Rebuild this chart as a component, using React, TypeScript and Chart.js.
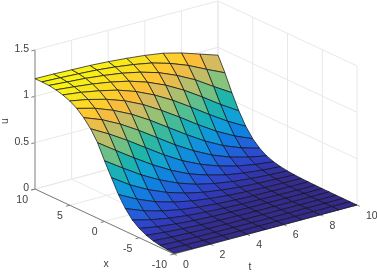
import React, { useEffect, useRef } from "react";
import { Chart, registerables } from "chart.js";
Chart.register(...registerables);

const W = 377;
const H = 272;
const xValues = [-10, -9, -8, -7, -6, -5, -4, -3, -2, -1, 0, 1, 2, 3, 4, 5, 6, 7, 8, 9, 10];
const tValues = [0, 1, 2, 3, 4, 5, 6, 7, 8, 9, 10];
const xTicks = [10, 5, 0, -5, -10];
const tTicks = [0, 2, 4, 6, 8, 10];
const uTicks = [0, 0.5, 1, 1.5];
const uTicksText = ["0", "0.5", "1", "1.5"];
// one row per t, values for x = -10 ... 10
const uT0 = [.008, .013, .022, .037, .062, .10, .157, .245, .361, .508, .655, .815, .93, 1.015, 1.08, 1.125, 1.155, 1.175, 1.187, 1.19, 1.19];
const uT1 = [.005, .009, .014, .024, .04, .066, .106, .168, .259, .378, .524, .678, .821, .94, 1.028, 1.088, 1.13, 1.155, 1.172, 1.182, 1.187];
const uT2 = [.003, .006, .009, .016, .026, .043, .07, .113, .178, .273, .397, .545, .70, .84, .953, 1.037, 1.094, 1.132, 1.158, 1.172, 1.18];
const uT3 = [.002, .004, .006, .01, .017, .028, .046, .075, .121, .191, .291, .419, .568, .72, .858, .968, 1.048, 1.10, 1.136, 1.16, 1.174];
const uT4 = [.001, .002, .004, .006, .011, .018, .03, .049, .08, .129, .203, .307, .438, .589, .741, .875, .98, 1.057, 1.108, 1.14, 1.162];
const uT5 = [.001, .001, .002, .004, .007, .012, .019, .032, .053, .086, .137, .214, .322, .457, .61, .76, .89, .993, 1.066, 1.113, 1.145];
const uT6 = [0, .001, .001, .003, .004, .007, .012, .02, .034, .057, .092, .148, .23, .341, .48, .633, .781, .908, 1.008, 1.077, 1.124];
const uT7 = [0, .001, .001, .002, .003, .005, .008, .013, .022, .036, .061, .097, .158, .242, .358, .50, .654, .801, .925, 1.02, 1.095];
const uT8 = [0, 0, .001, .001, .002, .003, .005, .009, .014, .024, .04, .065, .105, .166, .256, .376, .521, .675, .825, .945, 1.045];
const uT9 = [0, 0, 0, .001, .001, .002, .003, .006, .009, .016, .026, .043, .07, .113, .178, .272, .396, .541, .70, .85, .98];
const uT10 = [0, 0, 0, 0, .001, .001, .002, .004, .006, .01, .017, .028, .046, .074, .121, .189, .288, .42, .58, .76, .915];
const uRows = [uT0, uT1, uT2, uT3, uT4, uT5, uT6, uT7, uT8, uT9, uT10];
const uMax = 1.19;

const stops: [number, number[]][] = [
  [0, [53, 42, 135]], [.1, [48, 62, 195]], [.18, [40, 85, 215]], [.33, [16, 127, 225]], [.45, [16, 160, 216]],
  [.59, [32, 181, 168]], [.66, [85, 190, 145]], [.72, [140, 195, 120]], [.82, [212, 187, 96]], [.88, [253, 190, 55]],
  [.94, [252, 215, 40]], [1, [248, 244, 16]],
];
function colorOf(u: number) {
  const f = Math.min(1, Math.max(0, u / uMax));
  for (let i = 1; i < stops.length; i++) {
    if (f <= stops[i][0]) {
      const a = stops[i - 1], b = stops[i];
      const k = (f - a[0]) / (b[0] - a[0]);
      const c = a[1].map((v, n) => Math.round(v + (b[1][n] - v) * k));
      return `rgb(${c[0]},${c[1]},${c[2]})`;
    }
  }
  return "rgb(248,244,16)";
}

// orthographic view of the 3-D box onto the page
function project(x: number, t: number, u: number) {
  const sx = (x + 10) / 20;
  const st = t / 10;
  return { x: 174 - 139 * sx + 183 * st, y: 254 - 65 * sx - 49 * st - 92.7 * u };
}
const seg = (data: { x: number; y: number }[], color: string, width: number) => ({
  type: "scatter" as const, data, showLine: true, fill: false, borderColor: color, borderWidth: width,
  pointRadius: 0, tension: 0, clip: false as const,
});

function buildDatasets() {
  const patches: any[] = [];
  for (let i = 0; i < xValues.length - 1; i++) {
    for (let j = 0; j < tValues.length - 1; j++) {
      const p = (a: number, b: number) => project(xValues[a], tValues[b], uRows[b][a]);
      patches.push({
        ...seg([p(i, j), p(i + 1, j), p(i + 1, j + 1), p(i, j + 1), p(i, j)], "rgba(15,20,30,0.9)", 0.8),
        fill: "shape", backgroundColor: colorOf(uRows[j][i + 1]),
      });
    }
  }
  const axes = [
    seg([project(10, 0, 0), project(-10, 0, 0), project(-10, 10, 0)], "#7c7c7c", 1),
    seg([project(10, 0, 0), project(10, 0, 1.5)], "#b0b0b0", 1.6),
  ];
  for (const v of xTicks) { const a = project(v, 0, 0); axes.push(seg([a, project(v, -0.2, 0)], "#7c7c7c", 1)); }
  for (const v of tTicks) { const a = project(-10, v, 0); axes.push(seg([a, project(-10.4, v, 0)], "#7c7c7c", 1)); }
  for (const v of uTicks) { const a = project(10, 0, v); axes.push(seg([a, project(10, -0.2, v)], "#7c7c7c", 1)); }
  const grid: any[] = [];
  const g = "#e8e8e8";
  for (const v of xTicks) {
    grid.push(seg([project(v, 0, 0), project(v, 10, 0), project(v, 10, 1.5)], g, 1));
  }
  for (const v of tTicks) {
    grid.push(seg([project(-10, v, 0), project(10, v, 0), project(10, v, 1.5)], g, 1));
  }
  for (const v of uTicks) {
    grid.push(seg([project(10, 0, v), project(10, 10, v), project(-10, 10, v)], g, 1));
  }
  // first dataset is painted last, so the nearest patches come first
  return [...patches, ...axes, ...grid];
}

const labelPlugin = {
  id: "labels",
  afterDraw(chart: any) {
    const { ctx, scales } = chart;
    const px = (p: { x: number; y: number }) => ({ x: scales.x.getPixelForValue(p.x), y: scales.y.getPixelForValue(p.y) });
    ctx.save();
    ctx.fillStyle = "#404040";
    ctx.font = "10.5px 'Liberation Sans', Arial, sans-serif";
    ctx.textBaseline = "middle";
    ctx.textAlign = "right";
    uTicks.forEach((v, i) => { const a = px(project(10, 0, v)); ctx.fillText(uTicksText[i], a.x - 6, a.y - 1); });
    xTicks.forEach((v) => { const a = px(project(v, 0, 0)); ctx.fillText(String(v), a.x - 7, a.y + 11); });
    ctx.textAlign = "left";
    tTicks.forEach((v) => { const a = px(project(-10, v, 0)); ctx.fillText(String(v), a.x + 9, a.y + 11); });
    ctx.textAlign = "center";
    ctx.fillText("x", 106, 264);
    ctx.fillText("t", 250, 267);
    ctx.save();
    ctx.translate(5, 121);
    ctx.rotate(-Math.PI / 2);
    ctx.fillText("u", 0, 0);
    ctx.restore();
    ctx.restore();
  },
};

export default function App() {
  const ref = useRef<HTMLCanvasElement>(null);
  useEffect(() => {
    document.body.style.margin = "0";
    const chart = new Chart(ref.current!, {
      type: "scatter",
      data: { datasets: buildDatasets() },
      options: {
        animation: false, responsive: false, events: [],
        layout: { padding: 0 },
        plugins: { legend: { display: false }, tooltip: { enabled: false } },
        scales: {
          x: { type: "linear", min: 0, max: W, display: false },
          y: { type: "linear", min: 0, max: H, reverse: true, display: false },
        },
      },
      plugins: [labelPlugin],
    } as any);
    return () => chart.destroy();
  }, []);
  return <canvas ref={ref} width={W} height={H} style={{ display: "block", width: W, height: H, filter: "blur(0.3px)" }} />;
}
